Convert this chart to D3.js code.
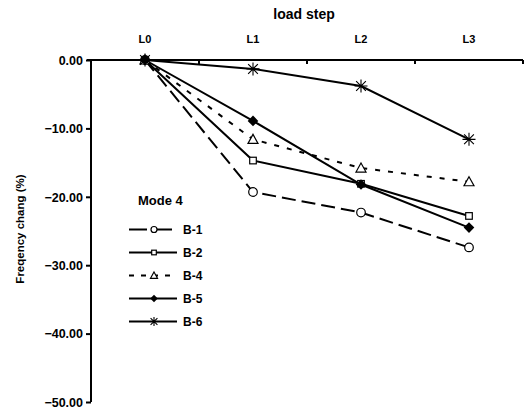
<!DOCTYPE html>
<html>
<head>
<meta charset="utf-8">
<script src="https://cdn.jsdelivr.net/npm/d3@7"></script>
<style>
  html, body { margin: 0; padding: 0; background: #fff; }
  svg text { font-family: "Liberation Sans", Arial, sans-serif; font-weight: bold; fill: #000; }
</style>
</head>
<body>
<svg id="chart" width="529" height="409"></svg>
<script>
// Load steps along the (top) category axis
const steps = ["L0", "L1", "L2", "L3"];
// Frequency change (%) per specimen at each load step
const b1 = [0, -19.3, -22.3, -27.4];
const b2 = [0, -14.7, -18.1, -22.8];
const b4 = [0, -11.6, -15.8, -17.8];
const b5 = [0, -8.9, -18.2, -24.5];
const b6 = [0, -1.3, -3.8, -11.6];
const seriesNames = ["B-1", "B-2", "B-4", "B-5", "B-6"];
const yTicks = [0, -10, -20, -30, -40, -50];

const series = [
  { name: seriesNames[0], values: b1, dash: "14,6", legendDash: "18,7", marker: "circle" },
  { name: seriesNames[1], values: b2, dash: null, legendDash: null, marker: "square" },
  { name: seriesNames[2], values: b4, dash: "5,8", legendDash: "5,7", marker: "triangle" },
  { name: seriesNames[3], values: b5, dash: null, legendDash: null, marker: "diamond" },
  { name: seriesNames[4], values: b6, dash: null, legendDash: null, marker: "star" }
];

const svg = d3.select("#chart");
const m = { left: 91, right: 523, top: 60, bottom: 402 };

const x = d3.scaleBand().domain(steps).range([m.left, m.right]);
const y = d3.scaleLinear().domain([0, -50]).range([m.top, m.bottom]);
const cx = d => x(d) + x.bandwidth() / 2;

// Category axis along the top edge, ticks at band boundaries
svg.append("line").attr("x1", m.left - 4).attr("x2", m.right).attr("y1", m.top).attr("y2", m.top)
  .attr("stroke", "#000").attr("stroke-width", 2);
steps.forEach((s, i) => {
  const xx = m.left + (i + 1) * x.bandwidth();
  svg.append("line").attr("x1", xx).attr("x2", xx).attr("y1", m.top).attr("y2", m.top + 4)
    .attr("stroke", "#000").attr("stroke-width", 2);
});
svg.selectAll(".xlab").data(steps).enter().append("text")
  .attr("x", d => cx(d)).attr("y", 43).attr("text-anchor", "middle")
  .attr("font-size", 11).text(d => d);
svg.append("text").attr("x", 304).attr("y", 19).attr("text-anchor", "middle")
  .attr("font-size", 14).text("load step");

// Value axis on the left
const yAxis = svg.append("g").attr("transform", `translate(${m.left},0)`)
  .call(d3.axisLeft(y).tickValues(yTicks).tickSize(5).tickPadding(3).tickFormat(d3.format(".2f")));
yAxis.select(".domain").attr("stroke", "#000").attr("stroke-width", 2).attr("d", `M0,${m.top}V${m.bottom}`);
yAxis.selectAll(".tick line").attr("stroke", "#000").attr("stroke-width", 2);
yAxis.selectAll(".tick text").attr("fill", "#000").attr("font-size", 12.5)
  .attr("font-family", "Liberation Sans, Arial, sans-serif")
  .attr("font-weight", "bold").attr("dy", "0.35em");
svg.append("text").attr("transform", `translate(24,${(m.top + m.bottom) / 2 - 2}) rotate(-90)`)
  .attr("text-anchor", "middle").attr("font-size", 11.5).attr("fill", "#000").text("Freqency chang (%)");

function drawMarker(g, type, px, py, k) {
  const s = "#000";
  if (type === "circle") {
    g.append("circle").attr("cx", px).attr("cy", py).attr("r", 4.3 * k)
      .attr("fill", "#fff").attr("stroke", s).attr("stroke-width", 1.2);
  } else if (type === "square") {
    const h = 3.3 * k;
    g.append("rect").attr("x", px - h).attr("y", py - h).attr("width", 2 * h).attr("height", 2 * h)
      .attr("fill", "#fff").attr("stroke", s).attr("stroke-width", 1.2);
  } else if (type === "triangle") {
    const h = 5 * k;
    g.append("path").attr("d", `M${px},${py - h}L${px + h},${py + h * 0.8}L${px - h},${py + h * 0.8}Z`)
      .attr("fill", "#fff").attr("stroke", s).attr("stroke-width", 1.2);
  } else if (type === "diamond") {
    const h = 5.3 * k;
    g.append("path").attr("d", `M${px},${py - h}L${px + h},${py}L${px},${py + h}L${px - h},${py}Z`)
      .attr("fill", s);
  } else if (type === "star") {
    const r = 6.5 * k;
    g.append("path").attr("d",
      `M${px - r},${py}H${px + r}M${px},${py - r}V${py + r}` +
      `M${px - r * 0.75},${py - r * 0.75}L${px + r * 0.75},${py + r * 0.75}` +
      `M${px - r * 0.75},${py + r * 0.75}L${px + r * 0.75},${py - r * 0.75}`)
      .attr("stroke", s).attr("stroke-width", 1.1).attr("fill", "none");
  }
}

const line = d3.line().x((d, i) => cx(steps[i])).y(d => y(d));
const plot = svg.append("g");
series.forEach(s => {
  plot.append("path").attr("d", line(s.values)).attr("fill", "none")
    .attr("stroke", "#000").attr("stroke-width", 2)
    .attr("stroke-dasharray", s.dash);
});
series.forEach(s => {
  s.values.forEach((v, i) => drawMarker(plot, s.marker, cx(steps[i]), y(v), 1));
});

// Legend
const lg = svg.append("g");
lg.append("text").attr("x", 138).attr("y", 205).attr("font-size", 13).text("Mode 4");
series.forEach((s, i) => {
  const ly = 229.5 + i * 23;
  lg.append("line").attr("x1", 129).attr("x2", 177).attr("y1", ly).attr("y2", ly)
    .attr("stroke", "#000").attr("stroke-width", 2)
    .attr("stroke-dasharray", s.legendDash);
  drawMarker(lg, s.marker, 154, ly, 0.7);
  lg.append("text").attr("x", 183).attr("y", ly + 4.5).attr("font-size", 12).text(s.name);
});
</script>
</body>
</html>
